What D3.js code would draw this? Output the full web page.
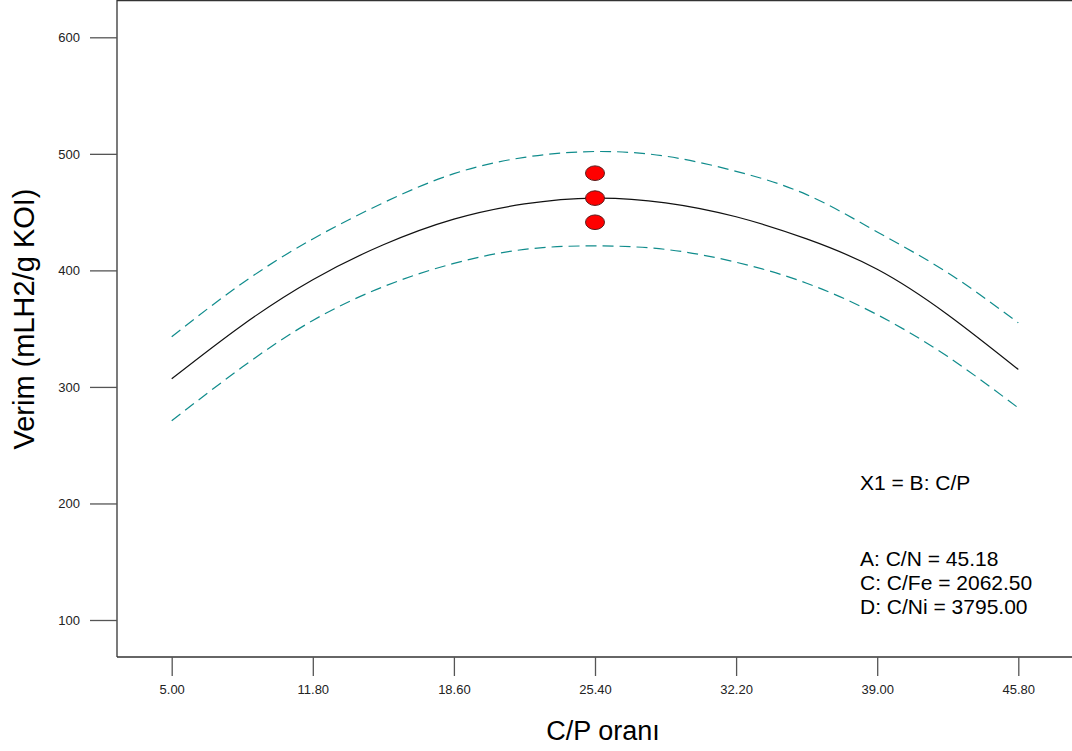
<!DOCTYPE html>
<html>
<head>
<meta charset="utf-8">
<script src="https://cdn.jsdelivr.net/npm/d3@7"></script>
<style>
  html, body { margin: 0; padding: 0; background: #fff; }
  svg { display: block; font-family: Arial, "Liberation Sans", sans-serif; }
</style>
</head>
<body>
<svg id="chart" width="1072" height="751"></svg>
<script>
// C/P ratio positions where the response curve was evaluated
const cpValues = [5.0, 8.4, 11.8, 15.2, 18.6, 22.0, 25.4, 28.8, 32.2, 35.6, 39.0, 42.4, 45.8];
// Predicted yield (mLH2/g KOI)
const predicted = [307, 353, 392, 422, 444, 457, 462, 458, 446, 427, 401, 362, 315];
// 95% confidence band
const upperBand = [343, 389, 427, 458, 483, 497, 502, 498, 485, 465, 433, 398, 355];
const lowerBand = [271, 317, 357, 386, 406, 418, 421, 418, 407, 389, 362, 326, 282];
// Observed design points (center runs)
const obsX = [25.4, 25.4, 25.4];
const obsY = [483.4, 462.0, 441.3];
// Tick labels
const xTicks = [5.0, 11.8, 18.6, 25.4, 32.2, 39.0, 45.8];
const yTicks = [100, 200, 300, 400, 500, 600];
// Fixed factor settings
const factorTitle = "X1 = B: C/P";
const factorLines = ["A: C/N = 45.18", "C: C/Fe = 2062.50", "D: C/Ni = 3795.00"];

const svg = d3.select("#chart");

const x = d3.scaleLinear().domain([5.0, 45.8]).range([171.7, 1018.3]);
const y = d3.scaleLinear().domain([100, 600]).range([620, 37.3]);

const plotLeft = 117, plotBottom = 657, plotTop = 0.5, plotRight = 1072;

// Frame
const frame = svg.append("g").attr("stroke", "#333").attr("stroke-width", 1.3).attr("fill", "none");
frame.append("line").attr("x1", plotLeft).attr("x2", plotLeft).attr("y1", 0).attr("y2", plotBottom);
frame.append("line").attr("x1", plotLeft).attr("x2", plotRight).attr("y1", plotBottom).attr("y2", plotBottom);
frame.append("line").attr("x1", plotLeft).attr("x2", plotRight).attr("y1", plotTop).attr("y2", plotTop);

// Axes
const yAxis = svg.append("g")
  .attr("transform", `translate(${plotLeft},0)`)
  .call(d3.axisLeft(y).tickValues(yTicks).tickSize(27).tickPadding(10).tickFormat(d3.format("d")));
const xAxis = svg.append("g")
  .attr("transform", `translate(0,${plotBottom})`)
  .call(d3.axisBottom(x).tickValues(xTicks).tickSize(19).tickPadding(9).tickFormat(d3.format(".2f")));

[yAxis, xAxis].forEach(g => {
  g.select(".domain").remove();
  g.selectAll(".tick line").attr("stroke", "#555").attr("stroke-width", 1.3);
  g.selectAll(".tick text").attr("fill", "#222").attr("font-size", 13);
});

// Curves
const line = d3.line().x(d => x(d[0])).y(d => y(d[1])).curve(d3.curveNatural);
const toPts = vals => cpValues.map((c, i) => [c, vals[i]]);

svg.append("path").datum(toPts(upperBand))
  .attr("d", line).attr("fill", "none").attr("stroke", "#108c8c")
  .attr("stroke-width", 1.2).attr("stroke-dasharray", "11,6");
svg.append("path").datum(toPts(lowerBand))
  .attr("d", line).attr("fill", "none").attr("stroke", "#108c8c")
  .attr("stroke-width", 1.2).attr("stroke-dasharray", "11,6");
svg.append("path").datum(toPts(predicted))
  .attr("d", line).attr("fill", "none").attr("stroke", "#111")
  .attr("stroke-width", 1.2);

// Observed points
svg.append("g").selectAll("ellipse")
  .data(obsX.map((c, i) => [c, obsY[i]]))
  .join("ellipse")
  .attr("cx", d => x(d[0])).attr("cy", d => y(d[1]))
  .attr("rx", 9.5).attr("ry", 7.3)
  .attr("fill", "#ff0000").attr("stroke", "#5a1a1a").attr("stroke-width", 1);

// Factor annotation
const note = svg.append("g").attr("font-size", 21).attr("fill", "#000");
note.append("text").attr("x", 860).attr("y", 490).text(factorTitle);
factorLines.forEach((t, i) => {
  note.append("text").attr("x", 860).attr("y", 566 + i * 24).text(t);
});

// Axis titles
svg.append("text")
  .attr("x", 603).attr("y", 740)
  .attr("text-anchor", "middle").attr("font-size", 27).attr("fill", "#000")
  .text("C/P oranı");
svg.append("text")
  .attr("transform", "translate(34,319) rotate(-90)")
  .attr("text-anchor", "middle").attr("font-size", 29).attr("fill", "#000")
  .text("Verim (mLH2/g KOI)");
</script>
</body>
</html>
